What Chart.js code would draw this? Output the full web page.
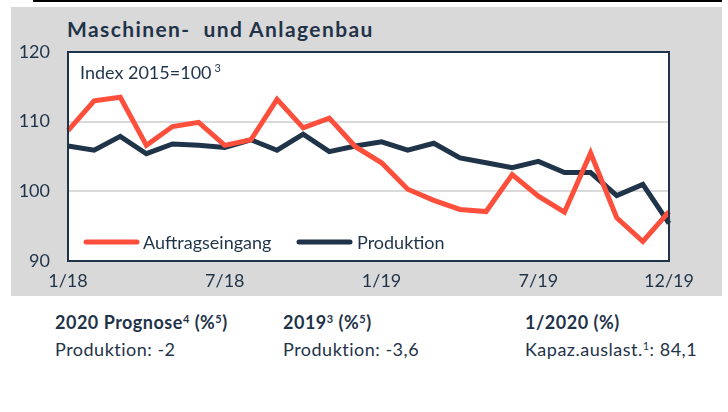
<!DOCTYPE html>
<html>
<head>
<meta charset="utf-8">
<script src="https://cdn.jsdelivr.net/npm/chart.js@4"></script>
<style>
  body { margin: 0; width: 728px; height: 412px; background: #fff; font-family: Lato, "Open Sans", sans-serif; color: #1f3349; position: relative; overflow: hidden; }
  #topline { position: absolute; left: 33px; top: 0; width: 689px; height: 2px; background: #000; }
  #panel { position: absolute; left: 11px; top: 7px; width: 711px; height: 289px; background: #d9d9d9; }
  #title { position: absolute; left: 67px; top: 16px; font-weight: bold; font-size: 21px; letter-spacing: 1.4px; white-space: pre; }
  #wrap { position: absolute; left: 0; top: 0; width: 728px; height: 300px; }
  .col { position: absolute; top: 309px; font-size: 18px; line-height: 27px; letter-spacing: 0.5px; }
  .col b { display: block; }
  sup { font-size: 11px; vertical-align: 6px; line-height: 0; }
</style>
</head>
<body>
<div id="topline"></div>
<div id="panel"></div>
<div id="title">Maschinen-  und Anlagenbau</div>
<div id="wrap"><canvas id="chart" width="728" height="300"></canvas></div>
<div class="col" style="left:55px"><b>2020 Prognose<sup>4</sup> (%<sup>5</sup>)</b>Produktion: -2</div>
<div class="col" style="left:283px"><b>2019<sup>3</sup> (%<sup>5</sup>)</b>Produktion: -3,6</div>
<div class="col" style="left:525px"><b>1/2020 (%)</b>Kapaz.auslast.<sup>1</sup>: 84,1</div>

<script>
// data
const months = [
  "1/18", "2/18", "3/18", "4/18", "5/18", "6/18", "7/18", "8/18", "9/18", "10/18", "11/18", "12/18",
  "1/19", "2/19", "3/19", "4/19", "5/19", "6/19", "7/19", "8/19", "9/19", "10/19", "11/19", "12/19"
];
const shownTicks = ["1/18", "7/18", "1/19", "7/19", "12/19"];
const auftrag = [108.7, 113.0, 113.5, 106.6, 109.3, 109.9, 106.6, 107.4, 113.2, 109.1, 110.5, 106.4,
                 104.1, 100.3, 98.7, 97.4, 97.1, 102.4, 99.3, 97.0, 105.5, 96.2, 92.8, 97.1];
const produktion = [106.5, 105.9, 107.9, 105.4, 106.8, 106.6, 106.3, 107.4, 105.9, 108.2, 105.7, 106.5,
                    107.1, 105.9, 106.9, 104.8, 104.1, 103.4, 104.3, 102.7, 102.7, 99.4, 101.0, 95.4];
const yTicks = [90, 100, 110, 120];

const RED = "#fe4f3c";
const NAVY = "#1f3349";

// white plot background
const bg = {
  id: "bg",
  beforeDraw(chart) {
    const a = chart.chartArea;
    chart.ctx.save();
    chart.ctx.fillStyle = "#fff";
    chart.ctx.fillRect(a.left, a.top, a.right - a.left, a.bottom - a.top);
    chart.ctx.restore();
  }
};

// border, index note and legend inside the plot
const extras = {
  id: "extras",
  afterDatasetsDraw(chart) {
    const a = chart.chartArea;
    const ctx = chart.ctx;
    ctx.save();
    ctx.strokeStyle = NAVY;
    ctx.lineWidth = 2;
    ctx.strokeRect(a.left, a.top, a.right - a.left, a.bottom - a.top);

    ctx.fillStyle = NAVY;
    ctx.font = "18px Lato";
    ctx.textBaseline = "alphabetic";
    ctx.fillText("Index 2015=100", 80, 79);
    let w = ctx.measureText("Index 2015=100").width;
    ctx.font = "11px Lato";
    ctx.fillText("3", 80 + w + 3, 72);

    ctx.lineCap = "round";
    ctx.lineWidth = 5;
    ctx.strokeStyle = RED;
    ctx.beginPath(); ctx.moveTo(86, 242); ctx.lineTo(137, 242); ctx.stroke();
    ctx.strokeStyle = NAVY;
    ctx.beginPath(); ctx.moveTo(299, 242); ctx.lineTo(350, 242); ctx.stroke();
    ctx.font = "18px Lato";
    ctx.textBaseline = "middle";
    ctx.fillText("Auftragseingang", 143, 243);
    ctx.fillText("Produktion", 357, 243);
    ctx.restore();
  }
};

new Chart(document.getElementById("chart"), {
  type: "line",
  data: {
    labels: months,
    datasets: [
      { label: "Auftragseingang", data: auftrag, borderColor: RED, borderWidth: 5, pointRadius: 0, tension: 0 },
      { label: "Produktion", data: produktion, borderColor: NAVY, borderWidth: 5, pointRadius: 0, tension: 0 }
    ]
  },
  options: {
    responsive: false,
    animation: false,
    layout: { padding: { left: 0, top: 52, right: 59, bottom: 0 } },
    plugins: { legend: { display: false }, tooltip: { enabled: false } },
    scales: {
      x: {
        offset: false,
        grid: { display: false, drawTicks: false },
        border: { display: false },
        afterFit: s => { s.height = 39; },
        ticks: {
          autoSkip: false, maxRotation: 0, padding: 9,
          color: NAVY, font: { family: "Lato", size: 18 },
          callback: function (v) {
            const l = this.getLabelForValue(v);
            return shownTicks.includes(l) ? l : "";
          }
        }
      },
      y: {
        min: yTicks[0], max: yTicks[yTicks.length - 1],
        afterFit: s => { s.width = 68; },
        afterBuildTicks: s => { s.ticks = yTicks.map(v => ({ value: v })); },
        grid: {
          drawTicks: false,
          lineWidth: 2,
          color: c => (c.tick.value === 100 || c.tick.value === 110) ? "#d9d9d9" : "rgba(0,0,0,0)"
        },
        border: { display: false },
        ticks: { padding: 18, color: NAVY, font: { family: "Lato", size: 18 } }
      }
    }
  },
  plugins: [bg, extras]
});
</script>
</body>
</html>
